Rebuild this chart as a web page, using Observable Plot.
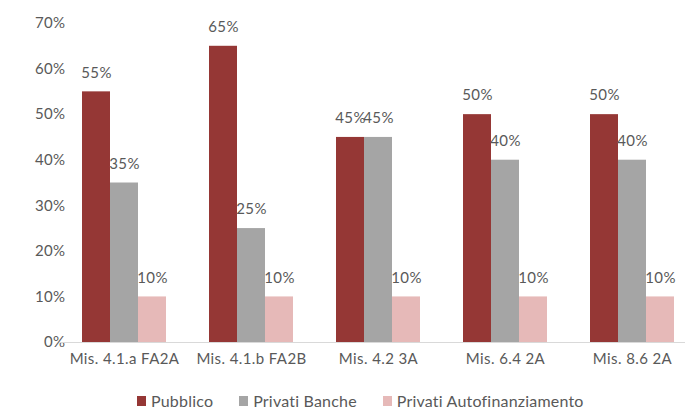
<!DOCTYPE html>
<html>
<head>
<meta charset="utf-8">
<script src="https://cdn.jsdelivr.net/npm/d3@7"></script>
<script src="https://cdn.jsdelivr.net/npm/@observablehq/plot@0.6"></script>
<style>
  html, body { margin: 0; padding: 0; background: #fff; overflow: hidden; }
  #chart { width: 685px; height: 410px; font-family: Lato, "Open Sans", sans-serif; }
  #chart svg text { letter-spacing: 0.4px; }
  .legend { display: flex; align-items: center; height: 18px; line-height: 18px; margin-top: 12px; padding-left: 137px; font-size: 16px; letter-spacing: 0.2px; color: #595959; font-family: Lato, sans-serif; }
  .legend span.item { display: flex; align-items: center; margin-right: 26px; }
  .legend span.sw { display: inline-block; width: 9px; height: 10px; margin-right: 5px; }
</style>
</head>
<body>
<div id="chart"></div>
<script>
const categories = ["Mis. 4.1.a FA2A", "Mis. 4.1.b FA2B", "Mis. 4.2 3A", "Mis. 6.4 2A", "Mis. 8.6 2A"];
const series = ["Pubblico", "Privati Banche", "Privati Autofinanziamento"];
const pubblico = [55, 65, 45, 50, 50];
const banche = [35, 25, 45, 40, 40];
const autofin = [10, 10, 10, 10, 10];
const colors = ["#953735", "#A5A5A5", "#E6B9B8"];
const yTicks = [0, 10, 20, 30, 40, 50, 60, 70];

const seriesValues = [pubblico, banche, autofin];
const data = [];
categories.forEach((c, i) => {
  series.forEach((s, j) => data.push({category: c, series: s, value: seriesValues[j][i]}));
});

const plot = Plot.plot({
  width: 685,
  height: 380,
  marginLeft: 60,
  marginRight: 0,
  marginTop: 23,
  marginBottom: 38,
  style: {fontFamily: "Lato, 'Open Sans', sans-serif", fontSize: "15px", color: "#595959"},
  fx: {domain: categories, paddingInner: 0.32, paddingOuter: 0.1206, align: 0.686, label: null, tickSize: 0, tickPadding: 11, axis: "bottom"},
  x: {domain: series, padding: 0, axis: null},
  y: {domain: [0, 70], ticks: yTicks, tickFormat: d => d + "%", label: null, tickSize: 0, tickPadding: 16},
  color: {domain: series, range: colors},
  marks: [
    Plot.barY(data, {fx: "category", x: "series", y: "value", fill: "series"}),
    Plot.ruleY([0], {stroke: "#D9D9D9", strokeWidth: 1, insetLeft: -21, insetRight: -21}),
    Plot.text(data, {fx: "category", x: "series", y: "value", text: d => d.value + "%", dy: -19, fill: "#595959", fontSize: 15})
  ]
});
document.getElementById("chart").appendChild(plot);

const legend = document.createElement("div");
legend.className = "legend";
series.forEach((s, i) => {
  const item = document.createElement("span");
  item.className = "item";
  const sw = document.createElement("span");
  sw.className = "sw";
  sw.style.background = colors[i];
  item.appendChild(sw);
  item.appendChild(document.createTextNode(s));
  legend.appendChild(item);
});
document.getElementById("chart").appendChild(legend);
</script>
</body>
</html>
